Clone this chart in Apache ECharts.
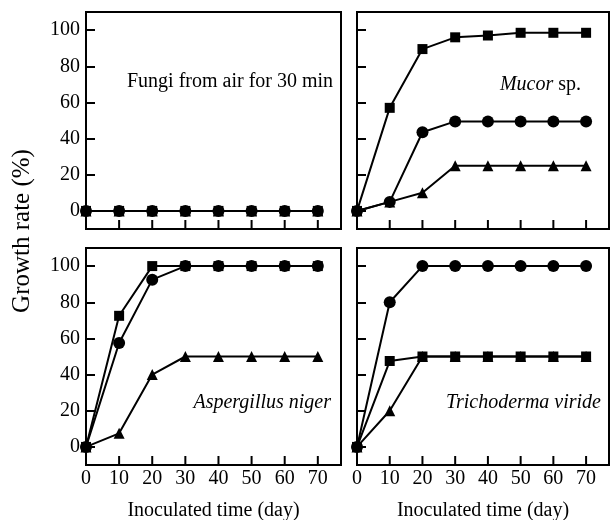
<!DOCTYPE html>
<html>
<head>
<meta charset="utf-8">
<script src="https://cdn.jsdelivr.net/npm/echarts@6/dist/echarts.min.js"></script>
<style>html,body{margin:0;padding:0;background:#fff;}#c{width:610px;height:520px;}</style>
</head>
<body>
<div id="c"></div>
<script>
var days = [0, 10, 20, 30, 40, 50, 60, 70];
var yTicks = [0, 20, 40, 60, 80, 100];
var xTicks = [0, 10, 20, 30, 40, 50, 60, 70];

var airSquare   = [0, 0, 0, 0, 0, 0, 0, 0];
var airTriangle = [0, 0, 0, 0, 0, 0, 0, 0];
var airCircle   = [0, 0, 0, 0, 0, 0, 0, 0];

var mucorSquare   = [0, 57, 89.5, 96, 97, 98.5, 98.5, 98.5];
var mucorCircle   = [0, 5, 43.5, 49.5, 49.5, 49.5, 49.5, 49.5];
var mucorTriangle = [0, 5, 10, 25, 25, 25, 25, 25];

var aspSquare   = [0, 72.5, 100, 100, 100, 100, 100, 100];
var aspCircle   = [0, 57.5, 92.5, 100, 100, 100, 100, 100];
var aspTriangle = [0, 7.5, 40, 50, 50, 50, 50, 50];

var triCircle   = [0, 80, 100, 100, 100, 100, 100, 100];
var triTriangle = [0, 20, 50, 50, 50, 50, 50, 50];
var triSquare   = [0, 47.5, 50, 50, 50, 50, 50, 50];

var FONT = 'Liberation Serif';
var Y_MIN = -10, Y_MAX = 110;

function pairs(vals) { return days.map(function (d, i) { return [d, vals[i]]; }); }

var grids = [
  { left: 86, top: 12, width: 255, height: 217 },
  { left: 357, top: 12, width: 252, height: 217 },
  { left: 86, top: 248, width: 255, height: 217 },
  { left: 357, top: 248, width: 252, height: 217 }
].map(function (g) {
  return Object.assign({ show: true, borderColor: '#000', borderWidth: 2, backgroundColor: 'transparent',
    containLabel: false, outerBoundsMode: 'none' }, g);
});

function xAx(i, showLabel) {
  return {
    type: 'value', gridIndex: i, min: 0, max: 77, position: 'bottom',
    axisLine: { show: true, onZero: false, lineStyle: { color: '#000', width: 2 } },
    splitLine: { show: false },
    axisTick: { show: false },
    axisLabel: { show: showLabel, customValues: xTicks, color: '#000', fontFamily: FONT, fontSize: 20, margin: 4 },
    name: showLabel ? 'Inoculated time (day)' : '',
    nameLocation: 'middle', nameGap: 36,
    nameTextStyle: { color: '#000', fontFamily: FONT, fontSize: 20 }
  };
}
function yAx(i, showLabel) {
  return {
    type: 'value', gridIndex: i, min: Y_MIN, max: Y_MAX, position: 'left',
    axisLine: { show: true, onZero: false, lineStyle: { color: '#000', width: 2 } },
    splitLine: { show: false },
    axisTick: { show: true, inside: true, length: 9, lineStyle: { color: '#000', width: 2 }, customValues: yTicks },
    axisLabel: { show: showLabel, customValues: yTicks, color: '#000', fontFamily: FONT, fontSize: 20, margin: 6 }
  };
}

function ser(i, vals, sym, size) {
  return {
    type: 'line', xAxisIndex: i, yAxisIndex: i, data: pairs(vals),
    symbol: sym, symbolSize: size, showSymbol: true,
    lineStyle: { color: '#000', width: 2 },
    itemStyle: { color: '#000', borderColor: '#000', borderWidth: 0 },
    silent: true, animation: false, z: 3
  };
}

var texts = [
  { type: 'text', x: 127, y: 82, style: { text: 'Fungi from air for 30 min', font: '20px "Liberation Serif"', fill: '#000', verticalAlign: 'middle' } },
  { type: 'text', x: 581, y: 85, style: { text: '{i|Mucor} sp.', font: '20px "Liberation Serif"', fill: '#000', align: 'right', verticalAlign: 'middle',
      rich: { i: { fontStyle: 'italic', fontFamily: FONT, fontSize: 20, fill: '#000' } } } },
  { type: 'text', x: 331, y: 403, style: { text: 'Aspergillus niger', font: 'italic 20px "Liberation Serif"', fill: '#000', align: 'right', verticalAlign: 'middle' } },
  { type: 'text', x: 601, y: 403, style: { text: 'Trichoderma viride', font: 'italic 20px "Liberation Serif"', fill: '#000', align: 'right', verticalAlign: 'middle' } },
  { type: 'text', x: 22, y: 231, rotation: Math.PI / 2, style: { text: 'Growth rate (%)', font: '25px "Liberation Serif"', fill: '#000', align: 'center', verticalAlign: 'middle' } }
];

var option = {
  animation: false,
  backgroundColor: '#fff',
  grid: grids,
  xAxis: [xAx(0, false), xAx(1, false), xAx(2, true), xAx(3, true)],
  yAxis: [yAx(0, true), yAx(1, false), yAx(2, true), yAx(3, false)],
  series: [
    ser(0, airSquare, 'rect', 10), ser(0, airTriangle, 'triangle', 11), ser(0, airCircle, 'circle', 12),
    ser(1, mucorSquare, 'rect', 10), ser(1, mucorTriangle, 'triangle', 11), ser(1, mucorCircle, 'circle', 12),
    ser(2, aspTriangle, 'triangle', 11), ser(2, aspSquare, 'rect', 10), ser(2, aspCircle, 'circle', 12),
    ser(3, triTriangle, 'triangle', 11), ser(3, triSquare, 'rect', 10), ser(3, triCircle, 'circle', 12)
  ]
};

var chart = echarts.init(document.getElementById('c'));
chart.setOption(option);

// inward x-axis tick marks placed through each grid's own axis scale
var ticks = [];
[0, 1, 2, 3].forEach(function (g) {
  xTicks.forEach(function (v) {
    if (v <= 0) return;
    var p = chart.convertToPixel({ gridIndex: g }, [v, Y_MIN]);
    if (!p) return;
    ticks.push({ type: 'line', z: 100, silent: true,
      shape: { x1: p[0], y1: p[1], x2: p[0], y2: p[1] - 9 },
      style: { stroke: '#000', lineWidth: 2 } });
  });
});
chart.setOption({ graphic: texts.concat(ticks) });
</script>
</body>
</html>
